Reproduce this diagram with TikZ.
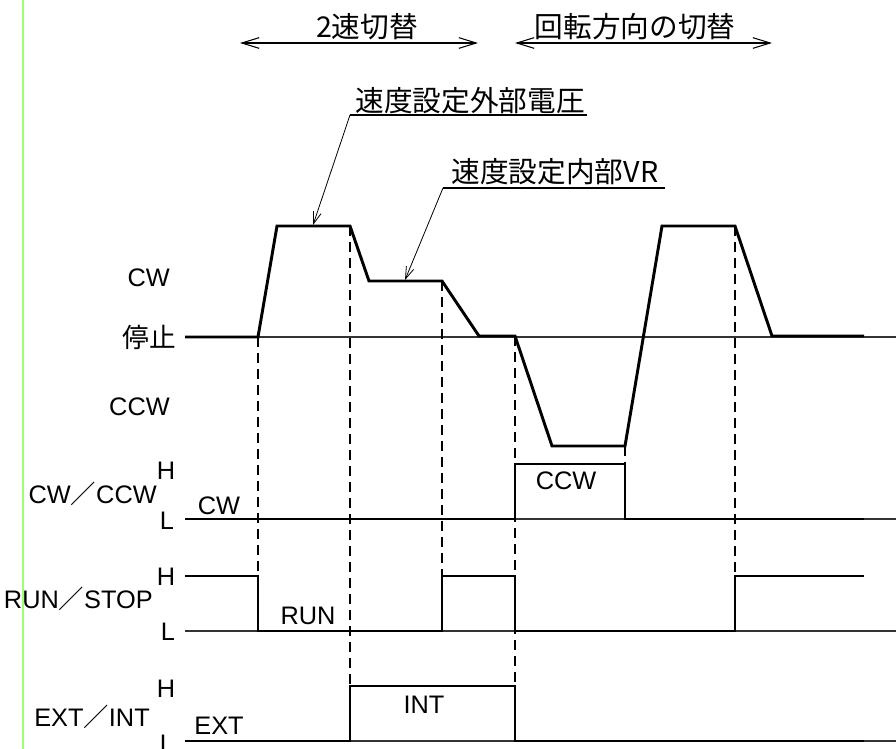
\documentclass[tikz,border=0pt]{standalone}
\usepackage{fontspec}
\setmainfont{Noto Sans CJK JP}
\newfontfamily\lat{Liberation Sans}
\newcommand\sls{\makebox[19pt]{\rmfamily ／}}
\usetikzlibrary{arrows.meta}
\definecolor{lgreen}{RGB}{160,255,110}
\begin{document}
\begin{tikzpicture}[x=0.75pt,y=-0.75pt,
  sig/.style={line width=2.2pt, line join=miter},
  base/.style={line width=0.8pt, black!80},
  guide/.style={line width=1.1pt, dash pattern=on 7.5pt off 4.5pt},
  lbl/.style={font=\lat\fontsize{19}{19}\selectfont, inner sep=0pt},
  jlbl/.style={font=\fontsize{20}{20}\selectfont, inner sep=0pt},
  ttl/.style={font=\fontsize{21.5}{21.5}\selectfont, inner sep=0pt},
  span/.style={line width=0.8pt, {Straight Barb[length=13pt,width=8pt]}-{Straight Barb[length=13pt,width=8pt]}},
  call/.style={line width=0.6pt, -{Straight Barb[length=9pt,width=6pt]}},
  uline/.style={line width=0.8pt}]

\useasboundingbox (0,0) rectangle (896,749);
\fill[white] (0,0) rectangle (896,749);
\draw[lgreen, line width=1.5pt] (23,0) -- (23,749);

% baselines
\draw[base] (185,337) -- (896,337);
\draw[base] (185,519) -- (896,519);
\draw[base] (185,631) -- (896,631);
\draw[base] (185,741) -- (896,741);

% guides
\draw[guide] (258,337) -- (258,576);
\draw[guide] (350,226) -- (350,686);
\draw[guide] (442,281) -- (442,576);
\draw[guide] (515,336) -- (515,686);
\draw[guide] (625,446) -- (625,464);
\draw[guide] (735,226) -- (735,576);

% speed waveform
\draw[sig] (185,337) -- (258,337) -- (277,226) -- (350,226) -- (369,281) -- (442,281)
  -- (479,336) -- (515,336) -- (552,446) -- (625,446) -- (662,226) -- (735,226)
  -- (772,336) -- (864,336);
% CW/CCW
\draw[sig] (185,519) -- (515,519) -- (515,464) -- (625,464) -- (625,519) -- (864,519);
% RUN/STOP
\draw[sig] (185,576) -- (258,576) -- (258,631) -- (442,631) -- (442,576) -- (515,576)
  -- (515,631) -- (735,631) -- (735,576) -- (864,576);
% EXT/INT
\draw[sig] (185,741) -- (350,741) -- (350,686) -- (515,686) -- (515,741) -- (864,741);

% left labels
\node[lbl, anchor=east] (cwlab) at (170,278) {CW};
\node[jlbl, anchor=east] (stop) at (176,337) {停止};
\node[lbl, anchor=east] (ccwlab) at (170,407) {CCW};
\node[lbl] (h1) at (166,471) {H};
\node[lbl, anchor=east] (cwccw) at (157,494) {CW\sls CCW};
\node[lbl] (l1) at (167,521) {L};
\node[lbl] (h2) at (166,577) {H};
\node[lbl, anchor=east] (runstop) at (153,599) {RUN\sls STOP};
\node[lbl] (l2) at (168,632) {L};
\node[lbl] (h3) at (166,689) {H};
\node[lbl, anchor=east] (extint) at (150,717) {EXT\sls INT};
\node[lbl] (l3) at (167,744) {L};

% in-signal labels
\node[lbl] (cwsmall) at (219,506) {CW};
\node[lbl] (ccwbox) at (566,481) {CCW};
\node[lbl] (runlab) at (308,616) {RUN};
\node[lbl] (extlab) at (219,726) {EXT};
\node[lbl] (intlab) at (424,705) {INT};

% top spans
\node[ttl] (t1) at (367,27) {2速切替};
\node[ttl] (t2) at (635,27) {回転方向の切替};
\coordinate (a1l) at (240,43);
\coordinate (a1r) at (478,43);
\coordinate (a2l) at (515,43);
\coordinate (a2r) at (772,43);
\draw[span] (a1l) -- (a1r);
\draw[span] (a2l) -- (a2r);

% callouts
\node[ttl] (ext) at (470,101) {速度設定外部電圧};
\coordinate (u1l) at (350,115);
\coordinate (u1r) at (587,115);
\coordinate (p1) at (313,225);
\draw[uline] (u1l) -- (u1r);
\draw[call] (u1l) -- (p1);

\node[ttl] (int) at (555,172) {速度設定内部VR};
\coordinate (u2l) at (443,188);
\coordinate (u2r) at (665,188);
\coordinate (p2) at (405,280);
\draw[uline] (u2l) -- (u2r);
\draw[call] (u2l) -- (p2);
\end{tikzpicture}
\end{document}
